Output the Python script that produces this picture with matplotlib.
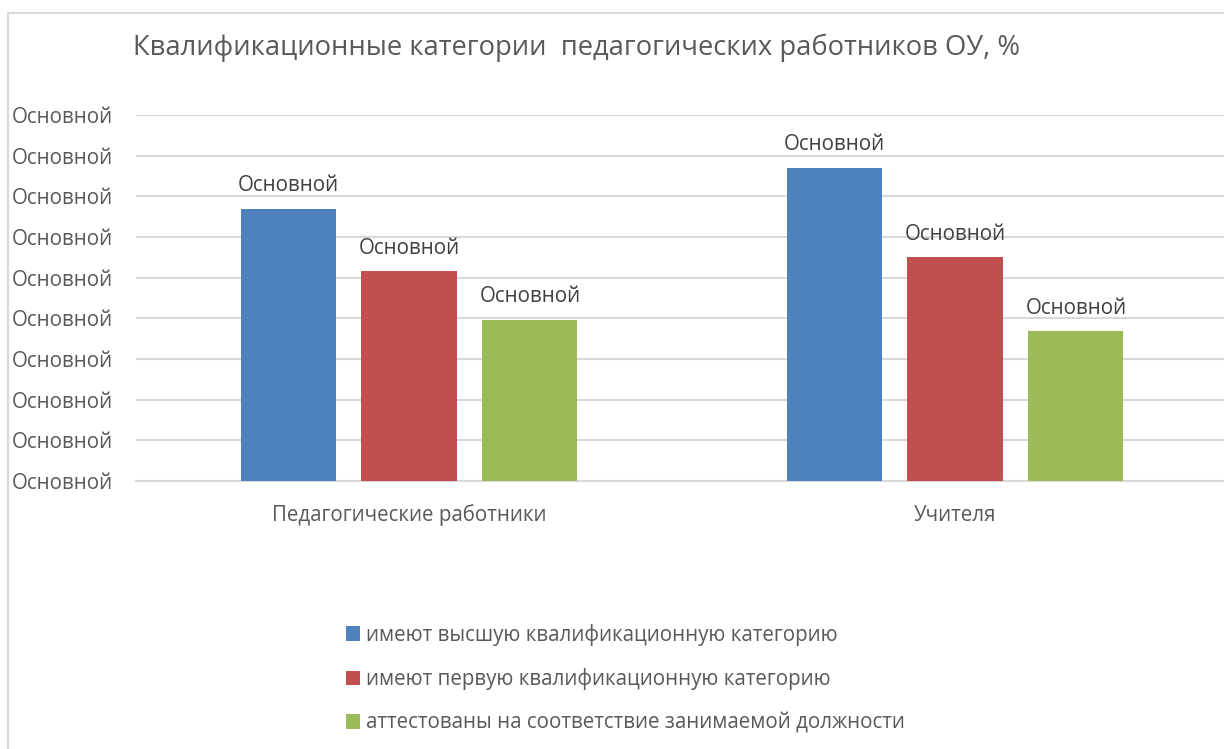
import numpy as np
import matplotlib.pyplot as plt
from matplotlib.patches import Rectangle

plt.rcParams['font.family'] = ['Open Sans', 'DejaVu Sans']

categories = ['Педагогические работники', 'Учителя']
series_names = ['имеют высшую квалификационную категорию',
                'имеют первую квалификационную категорию',
                'аттестованы на соответствие занимаемой должности']
values = [[33.5, 38.5],
          [25.8, 27.5],
          [19.8, 18.4]]
colors = ['#4f81bd', '#c0504d', '#9bbb59']
yticks = [0, 5, 10, 15, 20, 25, 30, 35, 40, 45]
tick_label = 'Основной'

fig = plt.figure(figsize=(12.24, 7.49), dpi=100)
ax = fig.add_axes([136 / 1224, 1 - 481 / 749, 1092 / 1224, 366 / 749])

# outer chart border
fig.patches.append(Rectangle((8 / 1224, -0.1), 1.2, 1 - 13 / 749 + 0.1,
                             transform=fig.transFigure, fill=False,
                             edgecolor='#d9d9d9', linewidth=1.5))

x = np.arange(len(categories))
width = 0.174
step = 0.2215
txt = '#595959'
fs = 14.8
for i, (name, vals) in enumerate(zip(series_names, values)):
    pos = x + (i - 1) * step
    bars = ax.bar(pos, vals, width, color=colors[i], label=name, zorder=3)
    for b in bars:
        ax.text(b.get_x() + b.get_width() / 2, b.get_height() + 1.55, tick_label,
                ha='center', va='bottom', fontsize=fs, color='#404040')

ax.set_xlim(-0.5, 1.5)
ax.set_ylim(0, 45)
ax.set_yticks(yticks)
ax.set_yticklabels([tick_label] * len(yticks), fontsize=fs, color=txt)
ax.set_xticks(x)
ax.set_xticklabels(categories, fontsize=fs, color=txt)
ax.tick_params(length=0)
ax.tick_params(axis='x', pad=17)
ax.grid(axis='y', color='#d9d9d9', linewidth=1.5, zorder=0)
for s in ax.spines.values():
    s.set_visible(False)
ax.spines['bottom'].set_visible(True)
ax.spines['bottom'].set_color('#d9d9d9')
ax.spines['bottom'].set_linewidth(1.5)
for lbl in ax.get_yticklabels():
    lbl.set_horizontalalignment('left')
ax.tick_params(axis='y', pad=124 * 0.72)

fig.text(133 / 1224, 1 - 48 / 749, 'Квалификационные категории  педагогических работников ОУ, %',
         fontsize=19.7, color=txt, va='center', ha='left')

fig.legend(loc='upper left', bbox_to_anchor=(327 / 1224, 1 - 605 / 749),
           frameon=False, fontsize=fs, labelcolor=txt, handlelength=0.7,
           handleheight=0.7, handletextpad=0.3, labelspacing=1.1)

fig.savefig('out.png', dpi=100)
